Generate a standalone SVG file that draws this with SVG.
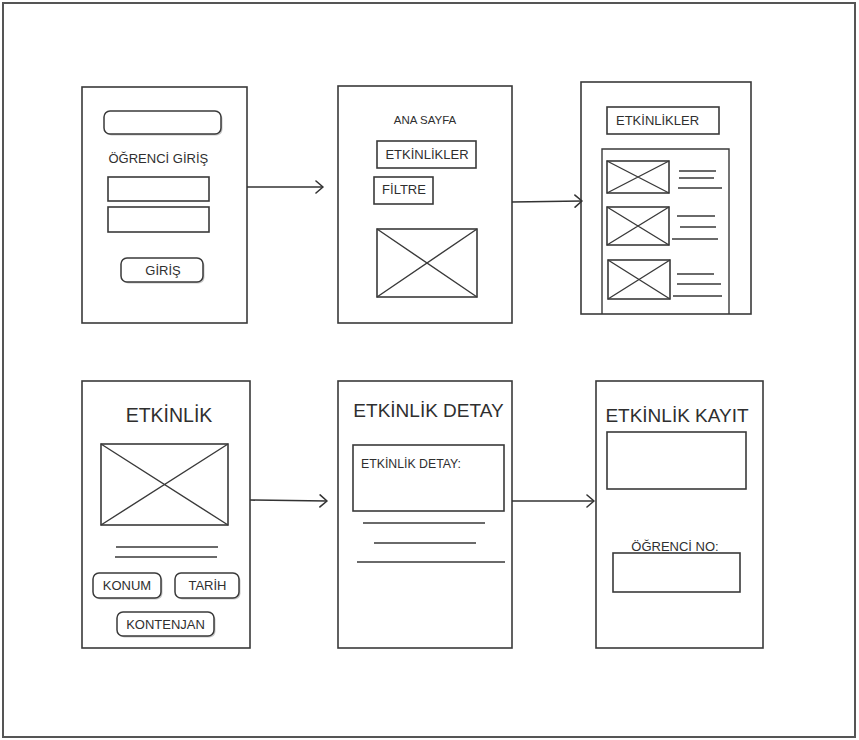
<svg xmlns="http://www.w3.org/2000/svg" width="859" height="740" viewBox="0 0 859 740">
  <defs>
    <style>
      .frame { fill: #fff; stroke: #555; stroke-width: 2; }
      .screen { fill: #fff; stroke: #3a3a3a; stroke-width: 1.6; }
      .box { fill: none; stroke: #3a3a3a; stroke-width: 1.6; }
      .btn { fill: #fff; stroke: #3a3a3a; stroke-width: 1.5; }
      .shadow { fill: #c8c8c8; stroke: none; }
      .ln { stroke: #3a3a3a; stroke-width: 1.4; fill: none; }
      .edge { stroke: #333; stroke-width: 1.6; fill: none; marker-end: url(#arrow); }
      text { font-family: "Liberation Sans", Arial, sans-serif; fill: #2f2f2f; }
      .lbl { font-size: 13px; }
      .sm { font-size: 11.5px; }
      .title { font-size: 19px; }
      .mid { text-anchor: middle; }
    </style>
    <marker id="arrow" viewBox="0 0 12 14" refX="11" refY="7" markerWidth="12" markerHeight="14" markerUnits="userSpaceOnUse" orient="auto">
      <path d="M4 1 L11 7 L4 13" fill="none" stroke="#333" stroke-width="1.6" stroke-linecap="round" stroke-linejoin="round"/>
    </marker>
  </defs>

  <rect class="frame" x="3" y="3" width="852" height="734"/>

  <!-- Login screen -->
  <g id="login">
    <rect class="screen" x="82" y="87" width="165" height="236"/>
    <rect class="shadow" x="105.5" y="112.5" width="117" height="23" rx="6"/>
    <rect class="btn" x="104" y="111" width="117" height="23" rx="6"/>
    <text class="lbl" x="108.5" y="163">ÖĞRENCİ GİRİŞ</text>
    <rect class="box" x="108" y="177" width="101" height="24"/>
    <rect class="box" x="108" y="207" width="101" height="25"/>
    <rect class="shadow" x="122.5" y="259.5" width="82" height="24" rx="6"/>
    <rect class="btn" x="121" y="258" width="82" height="24" rx="6"/>
    <text class="lbl mid" x="163" y="275">GİRİŞ</text>
  </g>

  <!-- Home screen -->
  <g id="home">
    <rect class="screen" x="338" y="86" width="174" height="237"/>
    <text class="sm mid" x="425" y="124">ANA SAYFA</text>
    <rect class="box" x="377" y="141" width="99" height="27"/>
    <text class="lbl mid" x="427" y="158.5">ETKİNLİKLER</text>
    <rect class="box" x="374" y="177" width="59" height="27"/>
    <text class="lbl mid" x="404" y="194">FİLTRE</text>
    <rect class="box" x="377" y="229" width="100" height="68"/>
    <path class="ln" d="M377 229 L477 297 M477 229 L377 297"/>
  </g>

  <!-- Events list screen -->
  <g id="events">
    <rect class="screen" x="581" y="82" width="170" height="232"/>
    <rect class="box" x="607" y="107" width="112" height="27"/>
    <text class="lbl" x="616" y="124.5">ETKİNLİKLER</text>
    <path class="ln" d="M602 314 L602 149 L729 149 L729 314"/>
    <rect class="box" x="607" y="161" width="62" height="32"/>
    <path class="ln" d="M607 161 L669 193 M669 161 L607 193"/>
    <path class="ln" d="M679 171 H716 M679 178 H714 M678 188 H722"/>
    <rect class="box" x="607" y="207" width="62" height="38"/>
    <path class="ln" d="M607 207 L669 245 M669 207 L607 245"/>
    <path class="ln" d="M677 216 H715 M680 227 H716 M672 239 H718"/>
    <rect class="box" x="608" y="260" width="62" height="39"/>
    <path class="ln" d="M608 260 L670 299 M670 260 L608 299"/>
    <path class="ln" d="M677 274 H714 M677 284 H721 M673 296 H722"/>
  </g>

  <!-- Event screen -->
  <g id="event">
    <rect class="screen" x="82" y="381" width="168" height="267"/>
    <text class="title mid" x="169" y="422" style="font-size:19.5px">ETKİNLİK</text>
    <rect class="box" x="101" y="444" width="127" height="81"/>
    <path class="ln" d="M101 444 L228 525 M228 444 L101 525"/>
    <path class="ln" d="M116 547 H218 M115 557 H217"/>
    <rect class="shadow" x="94.5" y="574.5" width="68" height="25" rx="6"/>
    <rect class="btn" x="93" y="573" width="68" height="25" rx="6"/>
    <text class="lbl mid" x="127" y="590">KONUM</text>
    <rect class="shadow" x="176.5" y="574.5" width="64" height="25" rx="6"/>
    <rect class="btn" x="175" y="573" width="64" height="25" rx="6"/>
    <text class="lbl mid" x="207.5" y="590">TARİH</text>
    <rect class="shadow" x="118.5" y="613.5" width="97" height="24" rx="6"/>
    <rect class="btn" x="117" y="612" width="97" height="24" rx="6"/>
    <text class="lbl mid" x="165.5" y="629">KONTENJAN</text>
  </g>

  <!-- Event detail screen -->
  <g id="detail">
    <rect class="screen" x="338" y="381" width="174" height="267"/>
    <text class="title mid" x="428.5" y="417">ETKİNLİK DETAY</text>
    <rect class="box" x="353" y="445" width="151" height="66"/>
    <text class="lbl" x="361" y="468" style="font-size:12.3px">ETKİNLİK DETAY:</text>
    <path class="ln" d="M363 523 H485 M374 543 H476 M357 562 H505"/>
  </g>

  <!-- Registration screen -->
  <g id="register">
    <rect class="screen" x="596" y="381" width="167" height="267"/>
    <text class="title mid" x="677" y="422">ETKİNLİK KAYIT</text>
    <rect class="box" x="607" y="432" width="139" height="57"/>
    <text class="lbl mid" x="675" y="551">ÖĞRENCİ NO:</text>
    <rect class="box" x="613" y="553" width="127" height="39"/>
  </g>

  <!-- Connectors -->
  <g id="connectors">
    <path class="edge" d="M247 187 L323 187"/>
    <path class="edge" d="M512 202 L582 201"/>
    <path class="edge" d="M250 500 L327 501"/>
    <path class="edge" d="M512 501 L594 501"/>
  </g>
</svg>
